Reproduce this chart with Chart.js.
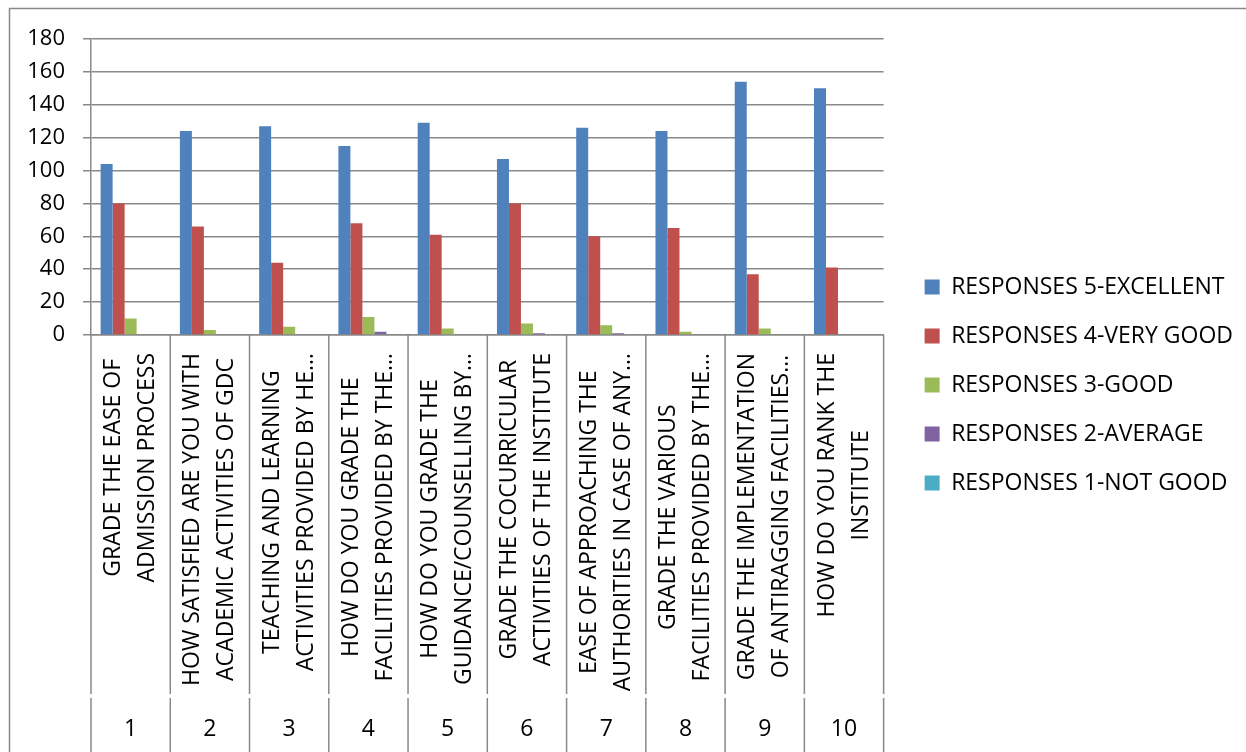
<!DOCTYPE html>
<html>
<head>
<meta charset="utf-8">
<script src="https://cdn.jsdelivr.net/npm/chart.js"></script>
<style>
html, body { margin: 0; padding: 0; background: #fff; }
#wrap { position: relative; width: 1246px; height: 752px; }
</style>
</head>
<body>
<div id="wrap"><canvas id="myChart"></canvas></div>
<script>
// question labels (two lines each, as shown on the axis)
var categories = [
  ['GRADE THE EASE OF', 'ADMISSION PROCESS'],
  ['HOW SATISFIED ARE YOU WITH', 'ACADEMIC ACTIVITIES OF GDC'],
  ['TEACHING AND LEARNING', 'ACTIVITIES PROVIDED BY HE…'],
  ['HOW DO YOU GRADE THE', 'FACILITIES PROVIDED BY THE…'],
  ['HOW DO YOU GRADE THE', 'GUIDANCE/COUNSELLING BY…'],
  ['GRADE THE COCURRICULAR', 'ACTIVITIES OF THE INSTITUTE'],
  ['EASE OF APPROACHING THE', 'AUTHORITIES IN CASE OF ANY…'],
  ['GRADE THE VARIOUS', 'FACILITIES PROVIDED BY THE…'],
  ['GRADE THE IMPLEMENTATION', 'OF ANTIRAGGING FACILITIES…'],
  ['HOW DO YOU RANK THE', 'INSTITUTE']
];
var groupNums = ['1', '2', '3', '4', '5', '6', '7', '8', '9', '10'];

var seriesNames = ['RESPONSES 5-EXCELLENT', 'RESPONSES 4-VERY GOOD', 'RESPONSES 3-GOOD',
  'RESPONSES 2-AVERAGE', 'RESPONSES 1-NOT GOOD'];
var excellent = [104, 124, 127, 115, 129, 107, 126, 124, 154, 150];
var veryGood  = [80, 66, 44, 68, 61, 80, 60, 65, 37, 41];
var good      = [10, 3, 5, 11, 4, 7, 6, 2, 4, 0];
var average   = [0, 0, 0, 2, 0, 1, 1, 0, 0, 0];
var notGood   = [0, 0, 0, 0, 0, 0, 0, 0, 0, 0];

var seriesColors = ['#4F81BD', '#C0504D', '#9BBB59', '#8064A2', '#4BACC6'];
var gridColor = '#898989';
var fontFamily = '"Open Sans", sans-serif';

var seriesData = [excellent, veryGood, good, average, notGood];
var datasets = seriesData.map(function(d, i) {
  return {
    label: seriesNames[i],
    data: d,
    backgroundColor: seriesColors[i],
    borderWidth: 0,
    xAxisID: 'x'
  };
});

// outer frame, rotated question labels and the category separators
var excelBits = {
  id: 'excelBits',
  beforeDraw: function(chart) {
    var ctx = chart.ctx;
    ctx.save();
    ctx.strokeStyle = gridColor;
    ctx.lineWidth = 1.5;
    ctx.beginPath();
    ctx.moveTo(9.5, chart.height);
    ctx.lineTo(9.5, 8.5);
    ctx.lineTo(chart.width, 8.5);
    ctx.stroke();
    ctx.restore();
  },
  afterDraw: function(chart) {
    var ctx = chart.ctx;
    var xs = chart.scales.x, x2 = chart.scales.x2;
    var n = chart.data.labels.length;
    ctx.save();
    ctx.strokeStyle = gridColor;
    ctx.lineWidth = 1.5;
    for (var k = 0; k <= n; k++) {
      var px = xs.left + k * xs.width / n;
      ctx.beginPath();
      ctx.moveTo(px, xs.top);
      ctx.lineTo(px, xs.bottom - 1);
      ctx.moveTo(px, x2.top + 3);
      ctx.lineTo(px, x2.bottom);
      ctx.stroke();
    }
    ctx.fillStyle = '#000';
    ctx.font = '23px ' + fontFamily;
    ctx.textAlign = 'center';
    ctx.textBaseline = 'middle';
    chart.data.labels.forEach(function(lines, i) {
      var cx = xs.getPixelForValue(i);
      var w = 0;
      lines.forEach(function(t) { w = Math.max(w, ctx.measureText(t).width); });
      var top = xs.top + 18;
      ctx.save();
      ctx.translate(cx, top + w / 2);
      ctx.rotate(-Math.PI / 2);
      lines.forEach(function(t, j) {
        ctx.fillText(t, 0, (j - (lines.length - 1) / 2) * 34);
      });
      ctx.restore();
    });
    ctx.restore();
  }
};

var ctx = document.getElementById('myChart').getContext('2d');
new Chart(ctx, {
  type: 'bar',
  data: { labels: categories, datasets: datasets },
  plugins: [excelBits],
  options: {
    responsive: true,
    maintainAspectRatio: false,
    devicePixelRatio: 1,
    animation: false,
    layout: { padding: { top: 18, right: 3, bottom: 0, left: 29 } },
    datasets: { bar: { categoryPercentage: 0.757, barPercentage: 1 } },
    plugins: {
      tooltip: { enabled: false },
      title: {
        display: true,
        text: '',
        fullSize: false,
        padding: 0,
        font: { size: 21, lineHeight: 1 }
      },
      legend: {
        position: 'right',
        maxWidth: 420,
        labels: {
          boxWidth: 15,
          boxHeight: 15,
          padding: 26,
          color: '#000',
          font: { family: fontFamily, size: 23 }
        }
      }
    },
    scales: {
      x: {
        offset: true,
        weight: 0,
        grid: { display: false },
        border: { display: true, color: gridColor, width: 1.5 },
        ticks: { display: false },
        afterFit: function(s) { s.height = 360; }
      },
      x2: {
        type: 'category',
        labels: groupNums,
        position: 'bottom',
        offset: true,
        weight: 1,
        grid: { display: false, drawTicks: false },
        border: { display: false },
        ticks: { color: '#000', padding: 21, maxRotation: 0, autoSkip: false,
                 font: { family: fontFamily, size: 23 } },
        afterFit: function(s) { s.height = 57; }
      },
      y: {
        min: 0,
        max: 180,
        ticks: { stepSize: 20, color: '#000', padding: 18,
                 font: { family: fontFamily, size: 22 } },
        grid: { color: gridColor, lineWidth: 1.5, tickLength: 8 },
        border: { color: gridColor, width: 1.5 },
        afterFit: function(s) { s.width = 62; }
      },
      yR: {
        type: 'linear',
        position: 'right',
        display: true,
        grid: { display: false },
        border: { display: false },
        ticks: { display: false },
        afterFit: function(s) { s.width = 15; }
      }
    }
  }
});
</script>
</body>
</html>
